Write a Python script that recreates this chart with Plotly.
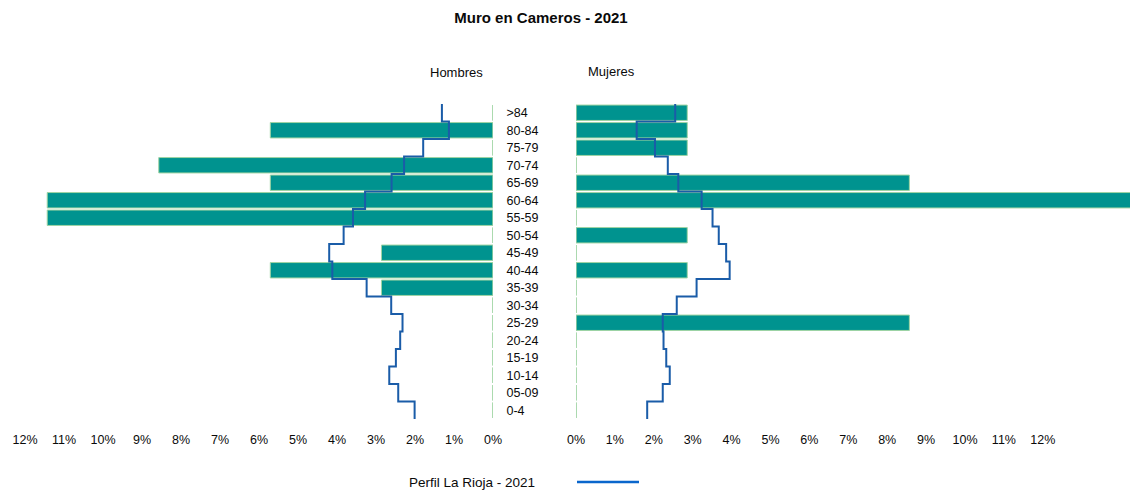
import plotly.graph_objects as go

# ---- data (top row first) ----
ages = [">84", "80-84", "75-79", "70-74", "65-69", "60-64", "55-59", "50-54", "45-49",
        "40-44", "35-39", "30-34", "25-29", "20-24", "15-19", "10-14", "05-09", "0-4"]
hombres = [0, 5.71, 0, 8.57, 5.71, 11.43, 11.43, 0, 2.86,
           5.71, 2.86, 0, 0, 0, 0, 0, 0, 0]
mujeres = [2.86, 2.86, 2.86, 0, 8.57, 14.29, 0, 2.86, 0,
           2.86, 0, 0, 8.57, 0, 0, 0, 0, 0]
rioja_h = [1.31, 1.13, 1.79, 2.28, 2.60, 3.28, 3.59, 3.83, 4.20,
           4.12, 3.24, 2.61, 2.32, 2.38, 2.49, 2.66, 2.43, 2.01]
rioja_m = [2.55, 1.56, 2.03, 2.36, 2.63, 3.23, 3.51, 3.67, 3.86,
           3.95, 3.10, 2.59, 2.23, 2.25, 2.32, 2.41, 2.23, 1.83]
tick_vals = list(range(0, 13))
tick_text = [f"{v}%" for v in tick_vals]

TITLE = "Muro en Cameros - 2021"
LEGEND_LABEL = "Perfil La Rioja - 2021"

# ---- styling ----
W, H = 1130, 490
M_T, M_B = 104, 71
BAR = "#00938f"
BAR_EDGE = "#9fd4a3"
LINE = "#1a5ca8"
FONT = "Liberation Sans, Arial, sans-serif"
TXT = "#0a0a0a"

n = len(ages)
ypos = [n - 1 - i for i in range(n)]


def step(values):
    xs, ys = [], []
    for v, y in zip(values, ypos):
        xs += [v, v]
        ys += [y + 0.5, y - 0.5]
    return xs, ys


def zero_marks():
    xs, ys = [], []
    for y in ypos:
        xs += [0, 0, None]
        ys += [y - 0.44, y + 0.44, None]
    return xs, ys


fig = go.Figure()
zx, zy = zero_marks()
for xa, ya, vals, prof in (("x", "y", hombres, rioja_h), ("x2", "y2", mujeres, rioja_m)):
    fig.add_trace(go.Scatter(x=zx, y=zy, mode="lines", xaxis=xa, yaxis=ya,
                             line=dict(color=BAR_EDGE, width=1), showlegend=False,
                             hoverinfo="skip"))
    fig.add_trace(go.Bar(x=vals, y=ypos, orientation="h", xaxis=xa, yaxis=ya,
                         marker=dict(color=BAR, line=dict(color=BAR_EDGE, width=1)),
                         width=0.88, showlegend=False))
    sx, sy = step(prof)
    fig.add_trace(go.Scatter(x=sx, y=sy, mode="lines", xaxis=xa, yaxis=ya,
                             line=dict(color=LINE, width=2), showlegend=False,
                             name=LEGEND_LABEL))

x0_left = 493
x0_right = 576
left_scale = 39.0
right_scale = 38.9

axis_common = dict(showgrid=False, zeroline=False, showline=False, automargin=False,
                   tickvals=tick_vals, ticktext=tick_text, ticks="outside",
                   ticklen=9, tickcolor="rgba(0,0,0,0)",
                   tickfont=dict(size=12.5, color=TXT, family=FONT))

fig.update_layout(
    template="none",
    width=W, height=H,
    margin=dict(l=0, r=0, t=M_T, b=M_B, pad=0, autoexpand=False),
    paper_bgcolor="white", plot_bgcolor="white",
    font=dict(family=FONT, color=TXT),
    showlegend=False,
    barmode="overlay",
    title=dict(text=f"<b>{TITLE}</b>", x=541 / W, xanchor="center",
               y=1 - 18 / H, yanchor="middle", font=dict(size=15, color=TXT)),
    xaxis=dict(domain=[0, x0_left / W], range=[x0_left / left_scale, 0], **axis_common),
    xaxis2=dict(domain=[x0_right / W, 1], range=[0, (W - x0_right) / right_scale],
                **axis_common),
    yaxis=dict(anchor="x", side="right", range=[-0.5, n - 0.5], tickvals=ypos,
               ticktext=ages, showgrid=False, zeroline=False, showline=False,
               automargin=False,
               ticks="outside", ticklen=10, tickcolor="rgba(0,0,0,0)",
               tickfont=dict(size=12.5, color=TXT, family=FONT)),
    yaxis2=dict(anchor="x2", range=[-0.5, n - 0.5], showticklabels=False,
                automargin=False,
                showgrid=False, zeroline=False, showline=False),
)

plot_h = H - M_T - M_B


def py(px_from_top):
    return (H - M_B - px_from_top) / plot_h


fig.add_annotation(text="Hombres", x=456 / W, y=py(73), xref="paper", yref="paper",
                   xanchor="center", yanchor="middle",
                   showarrow=False, font=dict(size=13, color=TXT))
fig.add_annotation(text="Mujeres", x=611 / W, y=py(72), xref="paper", yref="paper",
                   xanchor="center", yanchor="middle",
                   showarrow=False, font=dict(size=13, color=TXT))
fig.add_annotation(text=LEGEND_LABEL, x=537 / W, y=py(482.5), xref="paper", yref="paper",
                   xanchor="right", yanchor="middle", showarrow=False,
                   font=dict(size=13.5, color=TXT))
fig.add_shape(type="line", xref="paper", yref="paper", x0=577 / W, x1=639 / W,
              y0=py(482), y1=py(482), line=dict(color="#0a66cc", width=2.5))

fig.write_html("out.html",
               config={"displayModeBar": False},
               post_script="document.body.style.margin='0px';"
                           "document.body.style.overflow='hidden';")
